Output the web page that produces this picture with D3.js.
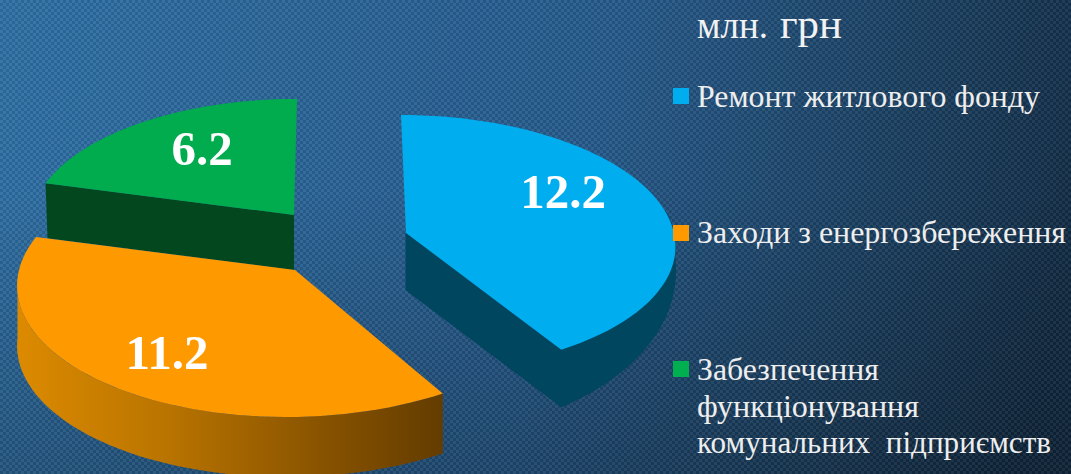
<!DOCTYPE html>
<html><head><meta charset="utf-8">
<script src="https://cdnjs.cloudflare.com/ajax/libs/d3/7.8.5/d3.min.js"></script>
<style>html,body{margin:0;padding:0;background:#16324c;overflow:hidden}text{font-family:"Liberation Serif",serif}</style>
</head><body><svg id="c" width="1071" height="474"></svg>
<script>
const categories = ["Ремонт житлового фонду", "Заходи з енергозбереження", "Забезпечення функціонування комунальних підприємств"];
const values = [12.2, 11.2, 6.2];
const valueLabels = ["12.2", "11.2", "6.2"];
const unitWords = ["млн.", "грн"];
const legendLines = [["Ремонт житлового фонду"], ["Заходи з енергозбереження"], ["Забезпечення", "функціонування", "комунальних  підприємств"]];

const W = 1071, H = 474;
const svg = d3.select("#c");
const defs = svg.append("defs");

// slice look: centre, scales and perspective, as fitted to the reference
const looks = [
  {cx:406, cy:233, sx:268, sy:128.3, ky:10.3, kx:23.6, skew:-5, depth:57, slope:44, wallFrom:1.4, wallTo:9, top:"#00aeef", side:"#00465f", label:[563,208]},
  {cx:295, cy:270, sx:276, sy:133.8, ky:13.2, kx:24, skew:9, depth:60, slope:0, wallFrom:0, wallTo:4.65, top:"#ff9900", side:"url(#orangeSide)", label:[167,369]},
  {cx:294, cy:215, sx:263.6, sy:130, ky:13.9, kx:24, skew:3, depth:55, slope:0, wallFrom:0, wallTo:0, top:"#00ac4e", side:"#03471f", label:[202,165]}
];
const colors = ["#00aeef", "#ff9900", "#00b050"];

const bg = defs.append("linearGradient").attr("id","bg").attr("gradientUnits","userSpaceOnUse")
  .attr("x1",0).attr("y1",0).attr("x2",1071).attr("y2",250);
[[0,"#2e6fa4"],[.55,"#25598a"],[.8,"#1b4163"],[1,"#122c45"]]
  .forEach(s=>bg.append("stop").attr("offset",s[0]).attr("stop-color",s[1]));
const shade = defs.append("linearGradient").attr("id","shade").attr("x1",0).attr("y1",0).attr("x2",0).attr("y2",1);
[[0,0],[.4,0],[1,.22]].forEach(s=>shade.append("stop").attr("offset",s[0]).attr("stop-color","#000").attr("stop-opacity",s[1]));
const tex = defs.append("pattern").attr("id","tex").attr("patternUnits","userSpaceOnUse").attr("width",6).attr("height",6);
tex.append("rect").attr("width",3).attr("height",3).attr("fill","#fff").attr("opacity",.06);
tex.append("rect").attr("x",3).attr("y",3).attr("width",3).attr("height",3).attr("fill","#fff").attr("opacity",.06);
tex.append("rect").attr("x",3).attr("width",3).attr("height",3).attr("fill","#000").attr("opacity",.07);
tex.append("rect").attr("y",3).attr("width",3).attr("height",3).attr("fill","#000").attr("opacity",.07);
svg.append("rect").attr("width",W).attr("height",H).attr("fill","url(#bg)");
svg.append("rect").attr("width",W).attr("height",H).attr("fill","url(#shade)");
svg.append("rect").attr("width",W).attr("height",H).attr("fill","url(#tex)");

const og = defs.append("linearGradient").attr("id","orangeSide").attr("gradientUnits","userSpaceOnUse")
  .attr("x1",18).attr("x2",444).attr("y1",0).attr("y2",0);
[[0,"#dc8a00"],[.35,"#b97400"],[.7,"#8a5400"],[1,"#633c00"]]
  .forEach(s=>og.append("stop").attr("offset",s[0]).attr("stop-color",s[1]));

const arcs = d3.pie().sort(null).startAngle(0).endAngle(2*Math.PI)(values);

function project(l, a, r){
  const X = r*Math.sin(a), Y = r*Math.cos(a);
  return [l.cx + X*(l.sx - l.kx*Y) + l.skew*Y, l.cy - Y*(l.sy - l.ky*Y)];
}
const line = d3.line();
const angles = (a0, a1) => d3.range(0, 61).map(i => a0 + (a1-a0)*i/60);
const dropAt = (l, a, Yref) => Math.max(0, l.depth - l.slope*(Math.cos(a) - Yref));

const g = svg.append("g");
// painted back to front: green, orange, blue
[2,1,0].forEach(i=>{
  const l = looks[i], d = arcs[i], s = g.append("g");
  const topRim = angles(d.startAngle, d.endAngle).map(a => project(l,a,1));
  const apex = project(l,0,0);
  if(i===2){ // radial wall on the slice's start side, facing the viewer
    const p = topRim[0];
    s.append("path").attr("d", line([apex,p,[p[0]+2,p[1]+l.depth],[apex[0],apex[1]+l.depth]])+"Z").attr("fill",l.side);
  } else { // outer wall along the front part of the rim
    const a0 = Math.max(d.startAngle, l.wallFrom), a1 = Math.min(d.endAngle, l.wallTo);
    const as = angles(a0, a1), Yref = Math.cos(i===0 ? d.endAngle : d.startAngle);
    const up = as.map(a => project(l,a,1));
    const down = as.map(a => { const p = project(l,a,1); return [p[0], p[1] + dropAt(l,a,Yref)]; });
    s.append("path").attr("d", line(up.concat(down.reverse()))+"Z").attr("fill",l.side)
      .attr("stroke", i===0 ? l.side : "none").attr("stroke-width",1);
  }
  if(i===0){ // radial wall on the slice's end side
    const p = topRim[60];
    s.append("path").attr("d", line([apex,p,[p[0],p[1]+l.depth],[apex[0],apex[1]+l.depth]])+"Z").attr("fill",l.side)
      .attr("stroke",l.side).attr("stroke-width",1);
  }
  s.append("path").attr("d", line([apex].concat(topRim))+"Z").attr("fill",l.top);
});

g.selectAll("text.v").data(valueLabels).join("text").attr("class","v")
  .attr("x",(d,i)=>looks[i].label[0]).attr("y",(d,i)=>looks[i].label[1])
  .attr("text-anchor","middle").attr("font-size",49).attr("font-weight",700).attr("fill","#fff").text(d=>d);

const titleBox = [[697,71,37],[780,62,42]];
svg.selectAll("text.t").data(unitWords).join("text").attr("class","t")
  .attr("x",(d,i)=>titleBox[i][0]).attr("y",38)
  .attr("font-size",(d,i)=>titleBox[i][2]).attr("fill","#f2f2f2")
  .attr("textLength",(d,i)=>titleBox[i][1]).attr("lengthAdjust","spacingAndGlyphs").text(d=>d);

const legendY = [[107],[243],[380,417,453]];
const markerY = [88,225,361];
const legendW = [[343],[369],[182,222,354]];
const lg = svg.append("g");
legendLines.forEach((ls,i)=>{
  lg.append("rect").attr("x",673).attr("y",markerY[i]).attr("width",16).attr("height",16).attr("fill",colors[i]);
  ls.forEach((t,j)=>lg.append("text").attr("x",697).attr("y",legendY[i][j]).attr("font-size",32)
    .attr("fill","#eeeeee").attr("textLength",legendW[i][j]).attr("lengthAdjust","spacingAndGlyphs").attr("xml:space","preserve").text(t));
});
</script></body></html>
